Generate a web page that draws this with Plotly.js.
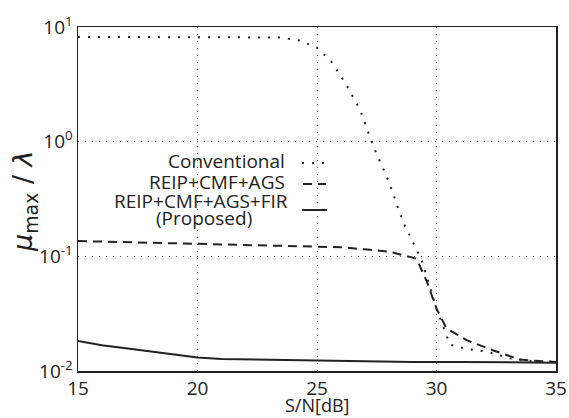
<!DOCTYPE html>
<html>
<head>
<meta charset="utf-8">
<script src="https://cdn.plot.ly/plotly-3.0.1.min.js"></script>
<style>html,body{margin:0;padding:0;background:#fff;}#chart{width:569px;height:418px;}</style>
</head>
<body>
<div id="chart"></div>
<script>
// S/N [dB]
const snrConv = [15, 17, 19, 21, 23, 23.5, 24.3, 25, 25.6, 26.2, 26.8, 27.35, 28.0, 28.6, 29.07, 29.4, 30.0, 30.3, 30.56, 31.3, 32.1, 33.07, 34, 35];
const conventional = [8.2, 8.2, 8.2, 8.2, 8.2, 8.1, 7.6, 6.6, 5.0, 3.2, 1.9, 0.92, 0.45, 0.2, 0.126, 0.09, 0.035, 0.0235, 0.017, 0.0155, 0.0148, 0.0129, 0.0122, 0.012];

const snrAgs = [15, 17, 19, 21, 23, 25, 26, 27, 28, 28.96, 29.17, 29.6, 30.0, 30.42, 31.26, 32.38, 33.49, 34.3, 35];
const reipCmfAgs = [0.136, 0.133, 0.13, 0.127, 0.124, 0.122, 0.12, 0.115, 0.11, 0.098, 0.095, 0.06, 0.035, 0.0235, 0.0186, 0.0151, 0.0126, 0.0122, 0.012];

const snrFir = [15, 16, 17, 18, 19, 20, 21, 22, 23, 24, 25, 27, 29, 31, 33, 35];
const reipCmfAgsFir = [0.0183, 0.0168, 0.0158, 0.0148, 0.0139, 0.0131, 0.0127, 0.0126, 0.0124, 0.0123, 0.0122, 0.0121, 0.012, 0.012, 0.0119, 0.0118];

const xTicks = [15, 20, 25, 30, 35];
const yTicks = [0.01, 0.1, 1, 10];
const yTickText = ['10<sup>-2</sup>', '10<sup>-1</sup>', '10<sup>0</sup>', '10<sup>1</sup>'];
const legendNames = ['Conventional', 'REIP+CMF+AGS', 'REIP+CMF+AGS+FIR', '(Proposed)'];
const xTitle = 'S/N[dB]';
const yTitle = '<i>μ</i><sub>max</sub> / <i>λ</i>';

const FONT = 'Open Sans, DejaVu Sans, sans-serif';
// plot area in pixels: left 78, right 556, top 27, bottom 371
const L = 78, W = 478, B = 371, H = 344;
const px = v => (v - L) / W;
const py = v => (B - v) / H;

const traces = [
  {x: snrConv, y: conventional, mode: 'lines', line: {color: '#222', width: 2, dash: '2px,8px'}, showlegend: false, name: legendNames[0]},
  {x: snrAgs, y: reipCmfAgs, mode: 'lines', line: {color: '#222', width: 2, dash: '9px,6px'}, showlegend: false, name: legendNames[1]},
  {x: snrFir, y: reipCmfAgsFir, mode: 'lines', line: {color: '#222', width: 2}, showlegend: false, name: legendNames[2]}
];

const layout = {
  width: 569, height: 418,
  margin: {l: 78, r: 13, t: 27, b: 47},
  paper_bgcolor: '#fff', plot_bgcolor: '#fff',
  font: {family: FONT, color: '#222', size: 19},
  xaxis: {
    range: [15, 35], tickvals: xTicks, ticktext: xTicks.map(String),
    showgrid: true, gridcolor: '#555', griddash: '1px,6px', gridwidth: 1,
    showline: true, mirror: true, linecolor: '#222', linewidth: 1.5,
    ticks: '', zeroline: false, tickfont: {size: 19, family: FONT}
  },
  yaxis: {
    type: 'log', range: [-2, 1], tickvals: yTicks, ticktext: yTickText,
    showgrid: true, gridcolor: '#555', griddash: '1px,6px', gridwidth: 1,
    showline: true, mirror: true, linecolor: '#222', linewidth: 1.5,
    ticks: '', zeroline: false, tickfont: {size: 19, family: FONT}
  },
  annotations: [
    {xref: 'paper', yref: 'paper', x: px(24), y: py(201), xanchor: 'center', yanchor: 'middle', textangle: -90, showarrow: false,
     text: yTitle, font: {family: 'DejaVu Sans, sans-serif', size: 27, color: '#222'}},
    {xref: 'paper', yref: 'paper', x: px(317), y: py(405), xanchor: 'center', yanchor: 'middle', showarrow: false,
     text: xTitle, font: {size: 18, family: FONT}},
    {xref: 'paper', yref: 'paper', x: px(287), y: py(161), xanchor: 'right', yanchor: 'middle', showarrow: false,
     text: legendNames[0], font: {size: 19, family: FONT}},
    {xref: 'paper', yref: 'paper', x: px(287), y: py(182), xanchor: 'right', yanchor: 'middle', showarrow: false,
     text: legendNames[1], font: {size: 19, family: FONT}},
    {xref: 'paper', yref: 'paper', x: px(290), y: py(201), xanchor: 'right', yanchor: 'middle', showarrow: false,
     text: legendNames[2], font: {size: 19, family: FONT}},
    {xref: 'paper', yref: 'paper', x: px(204), y: py(218), xanchor: 'center', yanchor: 'middle', showarrow: false,
     text: legendNames[3], font: {size: 19, family: FONT}}
  ],
  shapes: [
    {type: 'line', xref: 'paper', yref: 'paper', x0: px(302), x1: px(324), y0: py(163), y1: py(163), line: {color: '#222', width: 2, dash: '2px,8px'}},
    {type: 'line', xref: 'paper', yref: 'paper', x0: px(303), x1: px(326), y0: py(184), y1: py(184), line: {color: '#222', width: 2, dash: '9px,6px'}},
    {type: 'line', xref: 'paper', yref: 'paper', x0: px(302), x1: px(327), y0: py(210), y1: py(210), line: {color: '#222', width: 2}}
  ]
};

Plotly.newPlot('chart', traces, layout, {staticPlot: true, displayModeBar: false});
</script>
</body>
</html>
